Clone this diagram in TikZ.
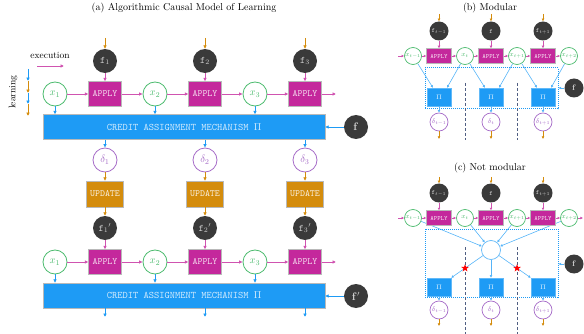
\RequirePackage{fix-cm}
\documentclass[tikz,border=0pt]{standalone}
\usetikzlibrary{arrows.meta,calc,shapes.geometric,backgrounds}

\definecolor{applyc}{RGB}{196,40,156}
\definecolor{creditc}{RGB}{30,155,245}
\definecolor{updc}{RGB}{212,140,12}
\definecolor{fdark}{RGB}{58,58,58}
\definecolor{xgreen}{RGB}{76,187,110}
\definecolor{dpurple}{RGB}{166,108,200}
\definecolor{sepc}{RGB}{80,94,130}

\tikzset{
  titletext/.style={font=\fontsize{10}{12}\selectfont},
  arr/.style={-{Latex[length=3.4pt,width=3.6pt]}, line width=0.8pt},
  sarr/.style={-{Latex[length=2.6pt,width=2.8pt]}, line width=0.6pt},
  magarr/.style={draw=applyc!80!white},
  orarr/.style={draw=updc},
  bluarr/.style={draw=creditc},
  lbluarr/.style={draw=creditc!75!white},
  fnode/.style={circle, fill=fdark, draw=none, minimum size=24pt, inner sep=0pt,
    text=white!82!black, font=\fontsize{10}{10}\selectfont},
  xnode/.style={circle, draw=xgreen, fill=white, line width=0.8pt, minimum size=24pt,
    inner sep=0pt, text=xgreen, font=\fontsize{10.5}{10}\selectfont},
  dnode/.style={circle, draw=dpurple, fill=white, line width=0.8pt, minimum size=24pt,
    inner sep=0pt, text=dpurple, font=\fontsize{10.5}{10}\selectfont},
  applybox/.style={rectangle, fill=applyc, draw=gray!55, line width=0.4pt,
    minimum width=33pt, minimum height=25pt, inner sep=0pt, text=white!85!applyc,
    font=\ttfamily\fontsize{9.5}{10}\selectfont},
  updbox/.style={rectangle, fill=updc, draw=gray!55, line width=0.4pt,
    minimum width=37pt, minimum height=26pt, inner sep=0pt, text=white!88!updc,
    font=\ttfamily\fontsize{9.5}{10}\selectfont},
  creditbox/.style={rectangle, fill=creditc, draw=gray!55, line width=0.4pt,
    minimum width=282pt, minimum height=25pt, inner sep=0pt, text=white!80!creditc,
    font=\ttfamily\fontsize{10}{10}\selectfont},
  % small versions for the two side panels
  fsm/.style={circle, fill=fdark, draw=none, minimum size=19pt, inner sep=0pt,
    text=white!82!black, font=\fontsize{6.5}{6.5}\selectfont},
  xsm/.style={circle, draw=xgreen, fill=white, line width=0.7pt, minimum size=17pt,
    inner sep=0pt, text=xgreen, font=\fontsize{6.5}{6.5}\selectfont},
  dsm/.style={circle, draw=dpurple, fill=white, line width=0.7pt, minimum size=18pt,
    inner sep=0pt, text=dpurple, font=\fontsize{6.5}{6.5}\selectfont},
  apsm/.style={rectangle, fill=applyc, draw=gray!55, line width=0.3pt,
    minimum width=25pt, minimum height=15pt, inner sep=0pt, text=white!85!applyc,
    font=\ttfamily\fontsize{6.5}{6.5}\selectfont},
  pism/.style={rectangle, fill=creditc, draw=creditc!70!white, line width=0.4pt,
    minimum width=24pt, minimum height=18pt, inner sep=0pt, text=white!85!creditc,
    font=\fontsize{6.5}{6.5}\selectfont},
  hubnode/.style={circle, draw=creditc!70!white, fill=white, line width=0.7pt,
    minimum size=19pt, inner sep=0pt},
  dotbox/.style={rectangle, draw=creditc, densely dotted, line width=1pt, inner sep=0pt},
  sepline/.style={draw=sepc, dashed, dash pattern=on 3pt off 2pt, line width=0.9pt},
  redstar/.style={star, star points=5, star point ratio=2.4, fill=red, draw=none,
    minimum size=8pt, inner sep=0pt},
}

\begin{document}
\begin{tikzpicture}[x=1pt,y=-1pt]
\useasboundingbox (0,0) rectangle (584,334);

% ---------------- titles ----------------
\node[titletext] (ta) at (184,8) {(a) Algorithmic Causal Model of Learning};
\node[titletext] (tb) at (490,8) {(b) Modular};
\node[titletext] (tc) at (490,168) {(c) Not modular};

% ---------------- legend ----------------
\node[font=\fontsize{9.5}{10}\selectfont] (exec) at (50,55) {execution};
\coordinate (e0) at (37,66);
\coordinate (e1) at (64,66);
\draw[arr,magarr] (e0) -- (e1);
\node[rotate=90, font=\fontsize{9.5}{10}\selectfont] (learn) at (13,92) {learning};
\coordinate (l0) at (28,69);
\coordinate (l1) at (28,81);
\coordinate (l2) at (28,93);
\coordinate (l3) at (28,104);
\coordinate (l4) at (28,116);
\draw[arr,bluarr] (l0) -- (l1);
\draw[arr,orarr] (l1) -- (l2);
\draw[arr,bluarr] (l2) -- (l3);
\draw[arr,orarr] (l3) -- (l4);

% ---------------- panel (a) ----------------
\node[creditbox] (cra) at (184,127) {CREDIT ASSIGNMENT MECHANISM $\Pi$};
\node[creditbox] (crb) at (184,295.5) {CREDIT ASSIGNMENT MECHANISM $\Pi$};
\node[fnode, font=\fontsize{11}{11}\selectfont] (fra) at (356,127) {$\mathbf{f}$};
\node[fnode, font=\fontsize{11}{11}\selectfont] (frb) at (356,296) {$\mathbf{f}'$};
\draw[arr,bluarr] (fra) -- (cra.east |- fra);
\draw[arr,bluarr] (frb) -- (crb.east |- frb);

\foreach \i/\cx in {1/105,2/205,3/305}{
  \pgfmathsetmacro\xx{\cx-50}
  % execution row
  \node[fnode] (fa\i) at (\cx,61) {\texttt{f}$_{\i}$};
  \node[applybox] (apa\i) at (\cx,94) {APPLY};
  \node[xnode] (xa\i) at (\xx,94) {$x_{\i}$};
  \coordinate (ina\i) at (\cx,38);
  \draw[arr,orarr] (ina\i) -- (fa\i);
  \draw[arr,magarr] (fa\i) -- (apa\i);
  \draw[arr,magarr] (xa\i) -- (apa\i);
  \draw[arr,bluarr] (xa\i) -- (xa\i |- cra.north);
  % learning column
  \node[dnode] (da\i) at (\cx,160) {$\delta_{\i}$};
  \node[updbox] (up\i) at (\cx,194) {UPDATE};
  \draw[arr,bluarr] (cra.south -| da\i) -- (da\i);
  \draw[arr,orarr] (da\i) -- (up\i);
  % second execution row
  \node[fnode] (fb\i) at (\cx,228) {\texttt{f}$_{\i}{}'$};
  \node[applybox] (apb\i) at (\cx,262) {APPLY};
  \node[xnode] (xb\i) at (\xx,262) {$x_{\i}$};
  \draw[arr,orarr] (up\i) -- (fb\i);
  \draw[arr,magarr] (fb\i) -- (apb\i);
  \draw[arr,magarr] (xb\i) -- (apb\i);
  \draw[arr,bluarr] (xb\i) -- (xb\i |- crb.north);
  \coordinate (outb\i) at (\cx,317);
  \draw[arr,bluarr] (crb.south -| outb\i) -- (outb\i);
}
\draw[arr,magarr] (apa1) -- (xa2);
\draw[arr,magarr] (apa2) -- (xa3);
\coordinate (enda) at (336,94);
\draw[arr,magarr] (apa3) -- (enda);
\draw[arr,magarr] (apb1) -- (xb2);
\draw[arr,magarr] (apb2) -- (xb3);
\coordinate (endb) at (336,262);
\draw[arr,magarr] (apb3) -- (endb);

% ---------------- panel (b): modular ----------------
\node[dotbox, minimum width=133pt, minimum height=41pt] (rb) at (491.5,88.5) {};
\node[fsm] (fm1) at (439,31) {\texttt{f}$_{t-1}$};
\node[fsm] (fm2) at (491,31) {\texttt{f}};
\node[fsm] (fm3) at (543,31) {\texttt{f}$_{t+1}$};
\node[apsm] (am1) at (439,56) {APPLY};
\node[apsm] (am2) at (491,56) {APPLY};
\node[apsm] (am3) at (543,56) {APPLY};
\node[xsm] (xm0) at (413,56) {$x_{t-1}$};
\node[xsm] (xm1) at (465,56) {$x_{t}$};
\node[xsm] (xm2) at (517,56) {$x_{t+1}$};
\node[xsm] (xm3) at (569,56) {$x_{t+2}$};
\node[pism] (pm1) at (439,97) {$\Pi$};
\node[pism] (pm2) at (491,97) {$\Pi$};
\node[pism] (pm3) at (543,97) {$\Pi$};
\node[dsm] (dm1) at (439,122) {$\delta_{t-1}$};
\node[dsm] (dm2) at (491,122) {$\delta_{t}$};
\node[dsm] (dm3) at (543,122) {$\delta_{t+1}$};
\node[fsm, font=\fontsize{8}{8}\selectfont] (fmr) at (574,88) {$\mathbf{f}$};
\coordinate (inm0) at (398,56);
\draw[sarr,magarr] (inm0) -- (xm0);
\foreach \i/\j in {0/1,1/2,2/3}{
  \draw[sarr,magarr] (xm\i) -- (am\j);
}
\draw[sarr,magarr] (am1) -- (xm1);
\draw[sarr,magarr] (am2) -- (xm2);
\draw[sarr,magarr] (am3) -- (xm3);
\foreach \i in {1,2,3}{
  \coordinate (tm\i) at ($(fm\i)+(0,-17)$);
  \draw[sarr,orarr] (tm\i) -- (fm\i);
  \draw[sarr,magarr] (fm\i) -- (am\i);
  \draw[sarr,lbluarr] (pm\i) -- (dm\i);
  \coordinate (om\i) at ($(dm\i)+(0,17)$);
  \draw[sarr,orarr] (dm\i) -- (om\i);
}
% each module reads the two states around it
\draw[sarr,lbluarr] (xm0) -- ($(pm1.north)+(-6,0)$);
\draw[sarr,lbluarr] (xm1) -- ($(pm1.north)+(8,0)$);
\draw[sarr,lbluarr] (xm1) -- ($(pm2.north)+(-6,0)$);
\draw[sarr,lbluarr] (xm2) -- ($(pm2.north)+(8,0)$);
\draw[sarr,lbluarr] (xm2) -- ($(pm3.north)+(-6,0)$);
\draw[sarr,lbluarr] (xm3) -- ($(pm3.north)+(8,0)$);
\draw[sarr,lbluarr] (fmr) -- (rb.east |- fmr);
\coordinate (sm1a) at (465,83);
\coordinate (sm1b) at (465,140);
\coordinate (sm2a) at (517,83);
\coordinate (sm2b) at (517,140);
\draw[sepline] (sm1a) -- (sm1b);
\draw[sepline] (sm2a) -- (sm2b);

% ---------------- panel (c): not modular ----------------
\node[dotbox, minimum width=133pt, minimum height=68pt] (rc) at (491.5,263) {};
\node[fsm] (fc1) at (439,193) {\texttt{f}$_{t-1}$};
\node[fsm] (fc2) at (491,193) {\texttt{f}};
\node[fsm] (fc3) at (543,193) {\texttt{f}$_{t+1}$};
\node[apsm] (ac1) at (439,218) {APPLY};
\node[apsm] (ac2) at (491,218) {APPLY};
\node[apsm] (ac3) at (543,218) {APPLY};
\node[xsm] (xc0) at (413,218) {$x_{t-1}$};
\node[xsm] (xc1) at (465,218) {$x_{t}$};
\node[xsm] (xc2) at (517,218) {$x_{t+1}$};
\node[xsm] (xc3) at (569,218) {$x_{t+2}$};
\node[hubnode] (hub) at (491,250) {};
\node[pism] (pc1) at (439,287) {$\Pi$};
\node[pism] (pc2) at (491,287) {$\Pi$};
\node[pism] (pc3) at (543,287) {$\Pi$};
\node[dsm] (dc1) at (439,310) {$\delta_{t-1}$};
\node[dsm] (dc2) at (491,310) {$\delta_{t}$};
\node[dsm] (dc3) at (543,310) {$\delta_{t+1}$};
\node[fsm, font=\fontsize{8}{8}\selectfont] (fcr) at (574,264) {$\mathbf{f}$};
\coordinate (inc0) at (398,218);
\coordinate (outc) at (583,218);
\draw[sarr,magarr] (inc0) -- (xc0);
\foreach \i/\j in {0/1,1/2,2/3}{
  \draw[sarr,magarr] (xc\i) -- (ac\j);
}
\draw[sarr,magarr] (ac1) -- (xc1);
\draw[sarr,magarr] (ac2) -- (xc2);
\draw[sarr,magarr] (ac3) -- (xc3);
\draw[sarr,magarr] (xc3) -- (outc);
\foreach \i in {1,2,3}{
  \coordinate (tc\i) at ($(fc\i)+(0,-16)$);
  \draw[sarr,orarr] (tc\i) -- (fc\i);
  \draw[sarr,magarr] (fc\i) -- (ac\i);
  \draw[sarr,lbluarr] (pc\i) -- (dc\i);
  \coordinate (oc\i) at ($(dc\i)+(0,16)$);
  \draw[sarr,orarr] (dc\i) -- (oc\i);
}
% every state feeds one shared credit computation
\begin{scope}[on background layer]
  \foreach \i in {0,1,2,3}{
    \draw[sarr,lbluarr] (xc\i) -- (hub);
  }
\end{scope}
\coordinate (pc1ne) at (pc1.north east);
\coordinate (pc3nw) at (pc3.north west);
\draw[sarr,lbluarr] (hub) -- (pc1ne);
\draw[sarr,lbluarr] (hub) -- (pc2);
\draw[sarr,lbluarr] (hub) -- (pc3nw);
\draw[sarr,lbluarr] (fcr) -- (rc.east |- fcr);
\coordinate (sc1a) at (465,247);
\coordinate (sc1b) at (465,334);
\coordinate (sc2a) at (517,247);
\coordinate (sc2b) at (517,334);
\draw[sepline] (sc1a) -- (sc1b);
\draw[sepline] (sc2a) -- (sc2b);
\node[redstar] (st1) at (intersection of hub--pc1ne and sc1a--sc1b) {};
\node[redstar] (st2) at (intersection of hub--pc3nw and sc2a--sc2b) {};

\end{tikzpicture}
\end{document}
